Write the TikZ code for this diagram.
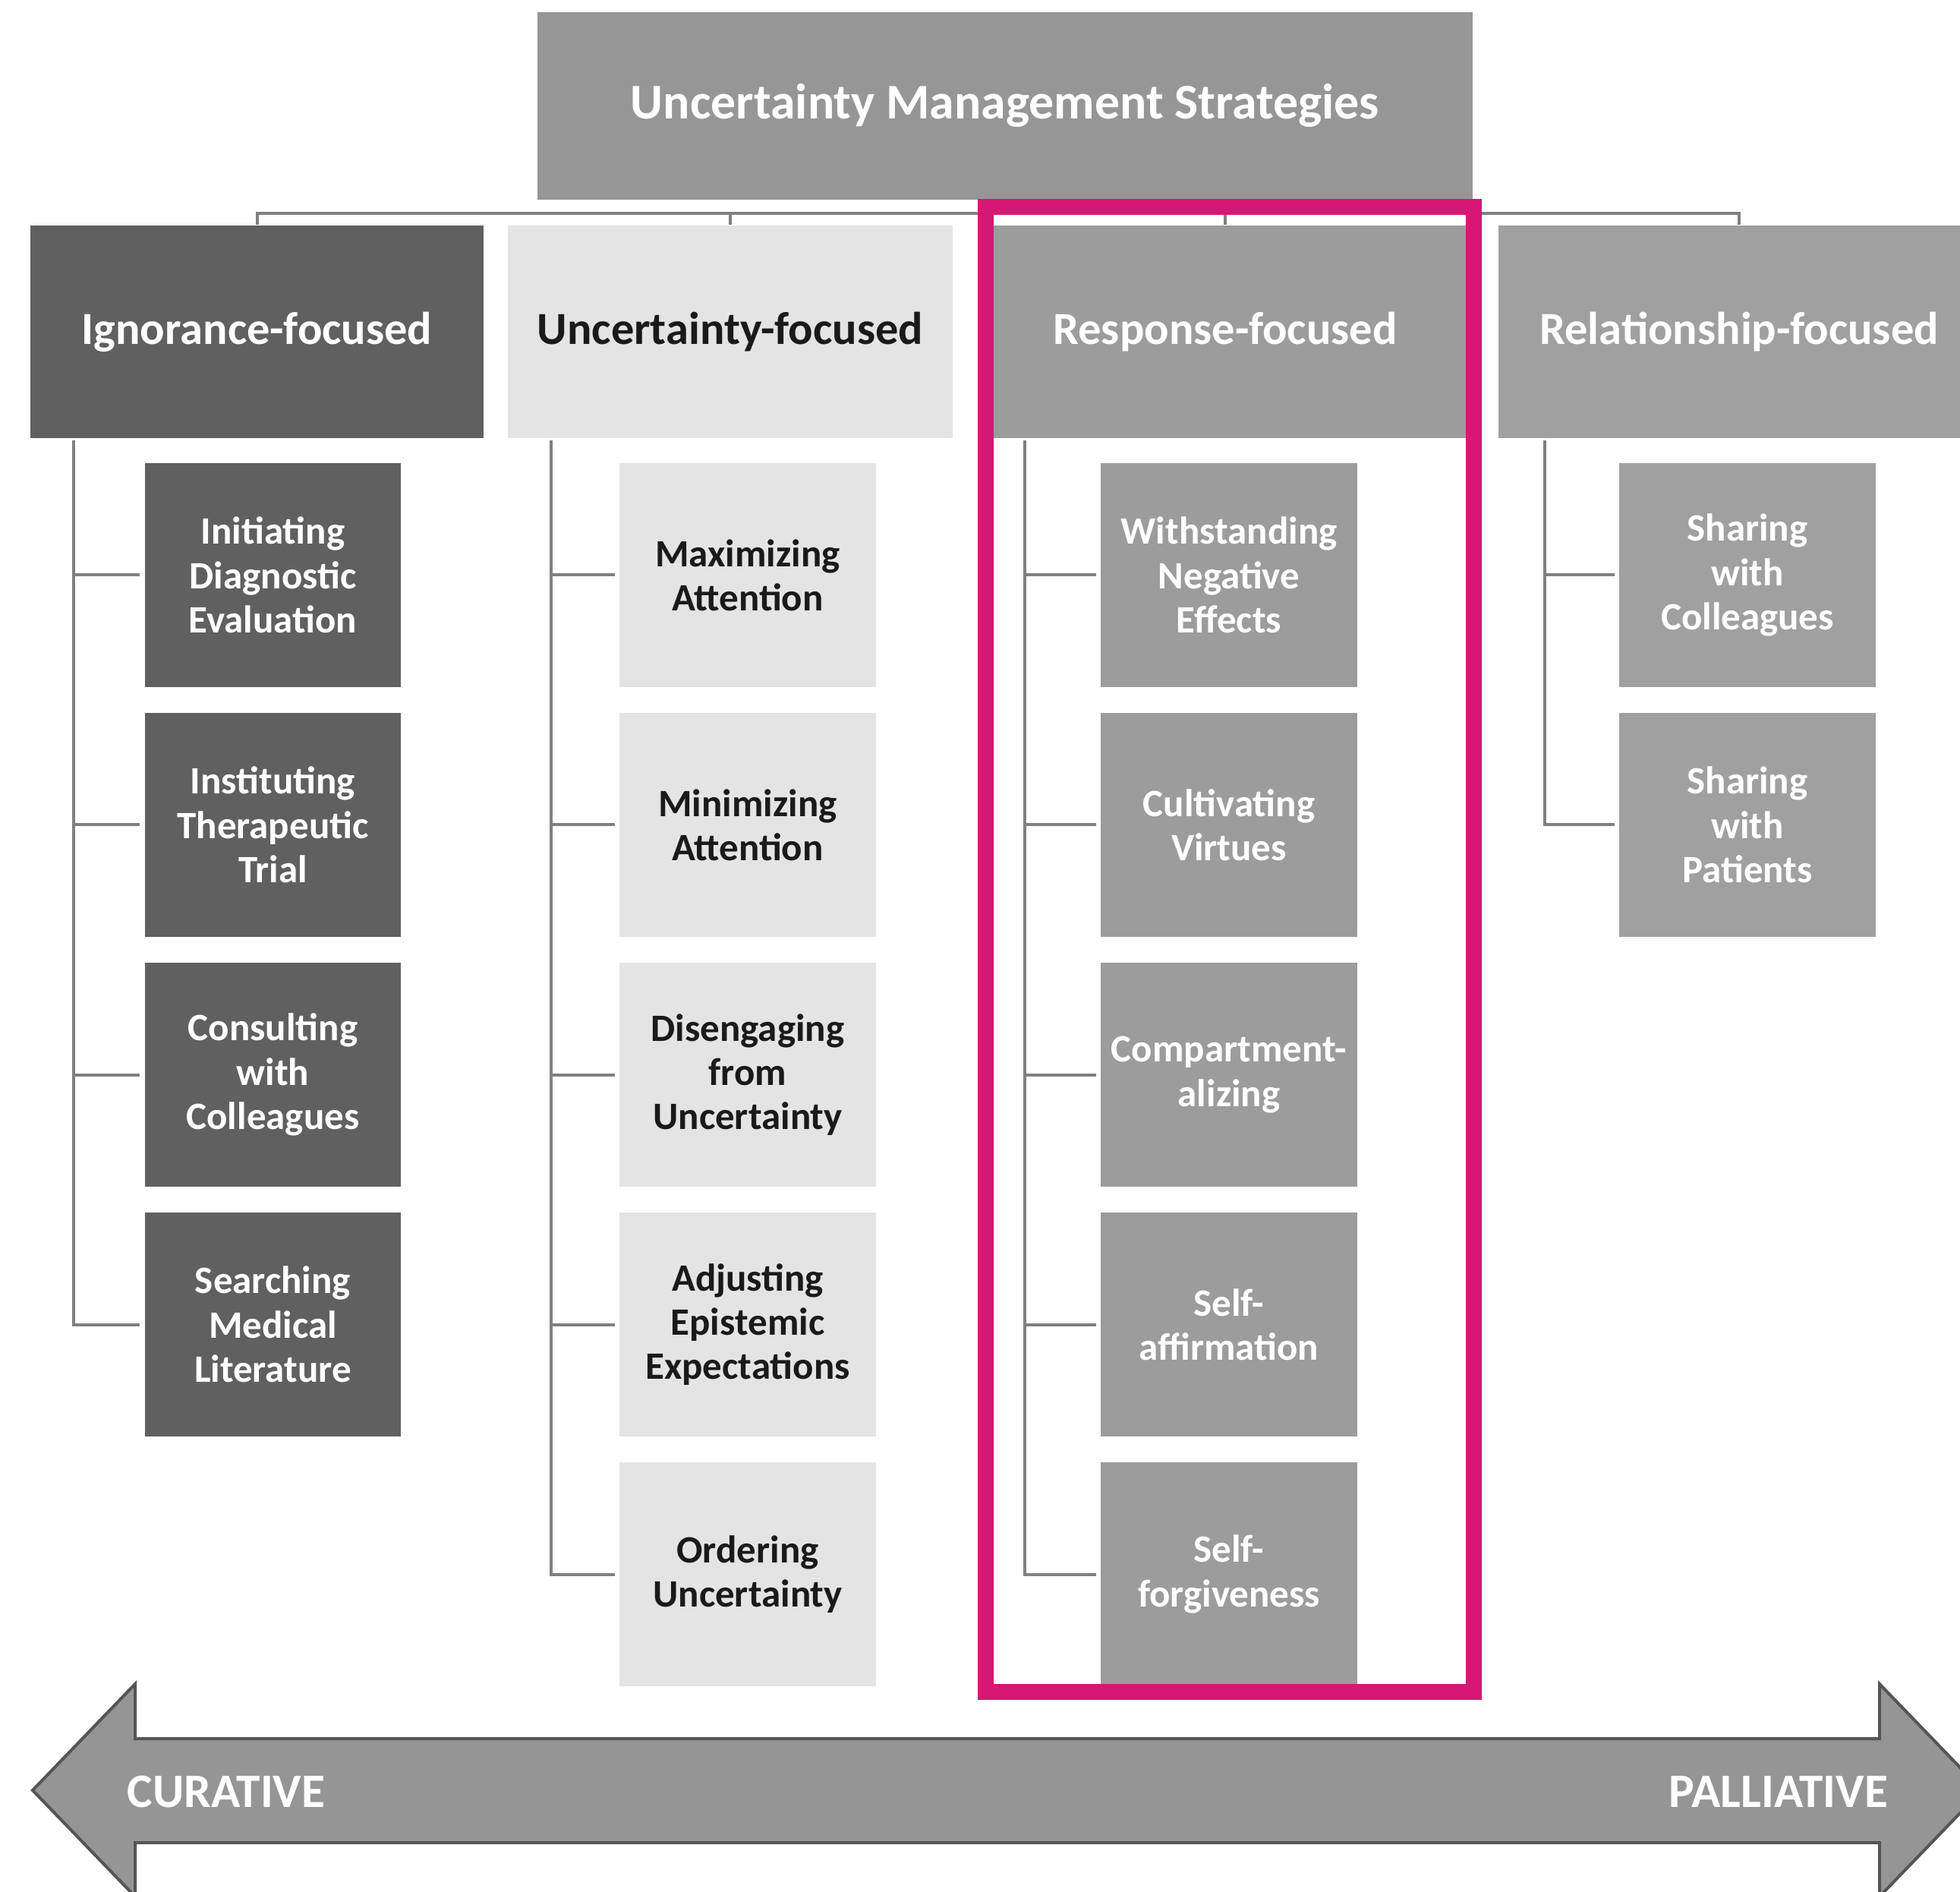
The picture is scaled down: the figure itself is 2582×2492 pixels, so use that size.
\documentclass[tikz,border=0pt]{standalone}
\usepackage{fontspec}
\setmainfont{Carlito}
\usetikzlibrary{calc}
\definecolor{cdark}{HTML}{606060}
\definecolor{clight}{HTML}{E4E4E4}
\definecolor{cmid}{HTML}{9C9C9C}
\definecolor{ctop}{HTML}{969696}
\definecolor{crel}{HTML}{A0A0A0}
\definecolor{cline}{HTML}{808080}
\definecolor{cpink}{RGB}{212,24,115}
\definecolor{carrow}{HTML}{959595}
\definecolor{carrowedge}{HTML}{555555}
\definecolor{ctext}{HTML}{1A1A1A}
\tikzset{
  titlebox/.style={rectangle, inner sep=0pt, fill=ctop, text=white, minimum width=12.32cm, minimum height=2.47cm, font=\bfseries\fontsize{18.7}{22}\selectfont},
  headbox/.style={rectangle, inner sep=0pt, minimum height=2.80cm, font=\bfseries\fontsize{17.2}{20}\selectfont},
  subbox/.style={rectangle, inner sep=0pt, align=center, minimum width=3.37cm, minimum height=2.95cm, font=\bfseries\fontsize{14.5}{16.6}\selectfont},
  darkc/.style={fill=cdark, text=white},
  lightc/.style={fill=clight, text=ctext},
  midc/.style={fill=cmid, text=white},
  relc/.style={fill=crel, text=white},
  conn/.style={draw=cline, line width=0.04cm},
  branch/.style={conn, shorten >=0.06cm},
  arrowlabel/.style={inner sep=0pt, text=white, font=\bfseries\fontsize{18}{21}\selectfont}
}
\begin{document}
\begin{tikzpicture}[x=0.01cm,y=-0.01cm]
\useasboundingbox (0,0) rectangle (2582,2492);
\fill[white] (0,0) rectangle (2582,2492);

% title
\node[titlebox] (title) at (1324,139.5) {Uncertainty Management Strategies};

% headers
\node[headbox, darkc, minimum width=5.97cm] (h1) at (338.5,437) {Ignorance-focused};
\node[headbox, lightc, minimum width=5.86cm] (h2) at (962,437) {Uncertainty-focused};
\node[headbox, midc, minimum width=6.36cm] (h3) at (1614,437) {Response-focused};
\node[headbox, relc, minimum width=6.34cm] (h4) at (2291,437) {Relationship-focused};

% bracket
\coordinate (bl) at (338.5,281);
\draw[conn] (h1.north) -- (h1.north |- bl) -- (h4.north |- bl) -- (h4.north);
\draw[conn] (h2.north) -- (h2.north |- bl);
\draw[conn] (h3.north) -- (h3.north |- bl);

% column 1
\node[subbox, darkc] (a1) at (359.5,757.5) {Initiating\\Diagnostic\\Evaluation};
\node[subbox, darkc] (a2) at (359.5,1086.5) {Instituting\\Therapeutic\\Trial};
\node[subbox, darkc] (a3) at (359.5,1415.5) {Consulting\\with\\Colleagues};
\node[subbox, darkc] (a4) at (359.5,1744.5) {Searching\\Medical\\Literature};

% column 2
\node[subbox, lightc] (b1) at (985,757.5) {Maximizing\\Attention};
\node[subbox, lightc] (b2) at (985,1086.5) {Minimizing\\Attention};
\node[subbox, lightc] (b3) at (985,1415.5) {Disengaging\\from\\Uncertainty};
\node[subbox, lightc] (b4) at (985,1744.5) {Adjusting\\Epistemic\\Expectations};
\node[subbox, lightc] (b5) at (985,2073.5) {Ordering\\Uncertainty};

% column 3
\node[subbox, midc] (c1) at (1619,757.5) {Withstanding\\Negative\\Effects};
\node[subbox, midc] (c2) at (1619,1086.5) {Cultivating\\Virtues};
\node[subbox, midc] (c3) at (1619,1415.5) {Compartment-\\alizing};
\node[subbox, midc] (c4) at (1619,1744.5) {Self-\\affirmation};
\node[subbox, midc] (c5) at (1619,2073.5) {Self-\\forgiveness};

% column 4
\node[subbox, relc] (d1) at (2302,757.5) {Sharing\\with\\Colleagues};
\node[subbox, relc] (d2) at (2302,1086.5) {Sharing\\with\\Patients};

% spines
\coordinate (s1) at (97,580);
\coordinate (s2) at (726,580);
\coordinate (s3) at (1350,580);
\coordinate (s4) at (2035,580);

\draw[branch] (s1) |- (a4.west);
\foreach \n in {a1,a2,a3} \draw[branch] (s1 |- \n.west) -- (\n.west);
\draw[branch] (s2) |- (b5.west);
\foreach \n in {b1,b2,b3,b4} \draw[branch] (s2 |- \n.west) -- (\n.west);
\draw[branch] (s3) |- (c5.west);
\foreach \n in {c1,c2,c3,c4} \draw[branch] (s3 |- \n.west) -- (\n.west);
\draw[branch] (s4) |- (d2.west);
\draw[branch] (s4 |- d1.west) -- (d1.west);

% highlight
\draw[cpink, line width=0.21cm] (1298.5,273) rectangle (1941.5,2228);

% arrow
\draw[fill=carrow, draw=carrowedge, line width=0.04cm, line join=miter]
  (43,2358) -- (178,2218) -- (178,2290) -- (2476,2290) -- (2476,2218) -- (2611,2358)
  -- (2476,2498) -- (2476,2427) -- (178,2427) -- (178,2498) -- cycle;
\node[arrowlabel] (cur) at (298,2360) {CURATIVE};
\node[arrowlabel] (pal) at (2343,2360) {PALLIATIVE};
\end{tikzpicture}
\end{document}
